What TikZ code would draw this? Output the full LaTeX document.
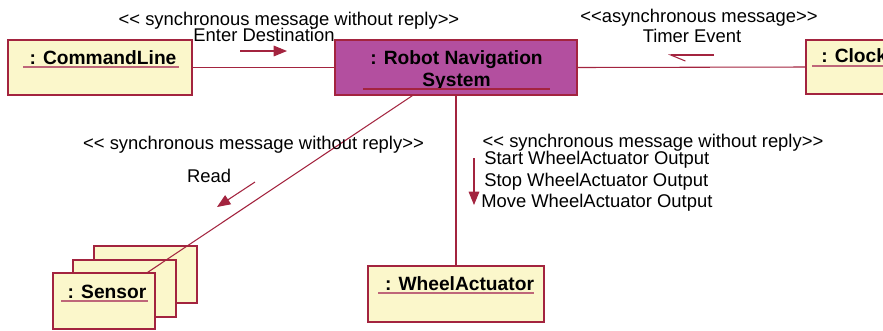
\documentclass[tikz,border=0pt]{standalone}
\usepackage{fontspec}
\newfontfamily\uifont{Liberation Sans}
\usetikzlibrary{arrows.meta,calc}
\definecolor{umlred}{HTML}{A3243F}
\definecolor{objfill}{HTML}{FBF7CB}
\definecolor{ctrlfill}{HTML}{B34F9F}
\tikzset{
  obj/.style={draw=umlred, fill=objfill, line width=1pt, inner sep=0pt},
  ctrl/.style={draw=umlred, fill=ctrlfill, line width=1pt, inner sep=0pt},
  link/.style={umlred, line width=0.8pt},
  uline/.style={umlred!70, line width=1.2pt},
  msg/.style={umlred, line width=0.8pt, -{Triangle[length=10pt,width=8pt]}},
  lbl/.style={font=\uifont\fontsize{13.8}{16}\selectfont, inner sep=0pt, anchor=base},
  oname/.style={font=\uifont\bfseries\fontsize{14.4}{16}\selectfont, inner sep=0pt, anchor=base},
}
\begin{document}
\begin{tikzpicture}[x=0.75pt,y=-0.75pt]
  \useasboundingbox (0,0) rectangle (883,330);

  % ===== 对象 =====
  \node[obj, minimum width=138pt, minimum height=41.25pt] (cmd) at (100,67.5) {};
  \node[ctrl, minimum width=181.5pt, minimum height=41.25pt] (rns) at (456,67.5) {};
  \node[obj, minimum width=120pt, minimum height=40.5pt] (clock) at (886,67) {};
  \node[obj, minimum width=77.25pt, minimum height=42.75pt] (sensorC) at (145.5,274.5) {};
  \node[obj, minimum width=77.25pt, minimum height=42.75pt] (sensorB) at (124.5,288.5) {};
  \node[obj, minimum width=76.5pt, minimum height=42pt] (sensor) at (104,301) {};
  \node[obj, minimum width=132pt, minimum height=42pt] (wheel) at (456,294) {};

  % 对象名
  \node[oname] (cmdname) at (103,64) {: CommandLine};
  \node[oname] (rnsname) at (456.5,64) {: Robot Navigation};
  \node[oname] (rnsname2) at (456.5,86) {System};
  \node[oname, anchor=base west] (clockname) at (821,62) {: Clock};
  \node[oname] (sensorname) at (107,298) {: Sensor};
  \node[oname] (wheelname) at (459.5,290) {: WheelActuator};

  \draw[uline] (23,67) -- (179,67);
  \draw[umlred, line width=1.2pt] (363,89) -- (550,89);
  \draw[uline] (812,66) -- (883,66);
  \draw[uline] (61,301) -- (148,301);
  \draw[uline] (378,293) -- (534,293);

  % ===== 链接 =====
  \draw[link] (cmd.east) -- (rns.west);
  \draw[link] (rns.east) -- (clock.west);
  \draw[link] (rns.south) -- (wheel.north);
  \draw[link] ($(rns.south west)+(78,0)$) -- ($(sensor.north east)+(-8,0)$);

  % ===== 消息 =====
  \node[lbl] (syncA) at (289,25) {<< synchronous message without reply>>};
  \node[lbl] (enter) at (264,41) {Enter Destination};
  \coordinate (enterS) at (240,51);
  \coordinate (enterE) at (287,51);
  \draw[msg] (enterS) -- (enterE);

  \node[lbl] (async) at (699,22) {<<asynchronous message>>};
  \node[lbl] (timer) at (692,42) {Timer Event};
  \coordinate (timerS) at (714,55);
  \coordinate (timerE) at (668,55);
  \draw[umlred, line width=0.8pt, -{Straight Barb[harpoon,length=11pt,width=9pt]}] (timerS) -- (timerE);

  \node[lbl] (syncB) at (253.5,149) {<< synchronous message without reply>>};
  \node[lbl] (read) at (209,182) {Read};
  \coordinate (readS) at (255,182);
  \coordinate (readE) at (217,207);
  \draw[msg] (readS) -- (readE);

  \node[lbl] (syncC) at (653,147) {<< synchronous message without reply>>};
  \node[lbl, anchor=base west] (start) at (484,164) {Start WheelActuator Output};
  \node[lbl, anchor=base west] (stop) at (484,186) {Stop WheelActuator Output};
  \node[lbl, anchor=base west] (move) at (481,207) {Move WheelActuator Output};
  \coordinate (wheelS) at (474,158);
  \coordinate (wheelE) at (474,205);
  \draw[msg] (wheelS) -- (wheelE);
\end{tikzpicture}
\end{document}
